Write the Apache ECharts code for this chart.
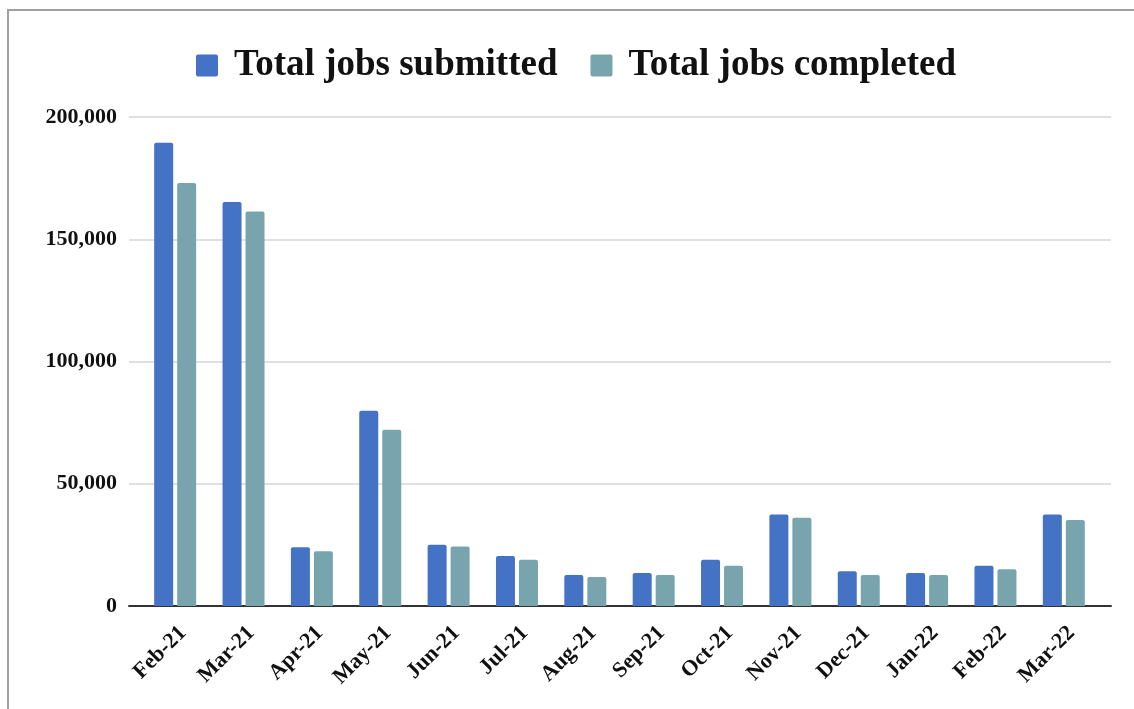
<!DOCTYPE html>
<html>
<head>
<meta charset="utf-8">
<script src="https://cdn.jsdelivr.net/npm/echarts@6/dist/echarts.min.js"></script>
<style>
  html, body { margin: 0; padding: 0; background: #fff; }
  #chart { position: absolute; left: 0; top: 0; width: 1134px; height: 709px; }
  #frame { position: absolute; left: 7px; top: 9px; width: 1140px; height: 720px;
           border-top: 2px solid #a0a0a0; border-left: 2px solid #a0a0a0; pointer-events: none; }
</style>
</head>
<body>
<div id="chart"></div>
<div id="frame"></div>
<script>
const categories = ['Feb-21','Mar-21','Apr-21','May-21','Jun-21','Jul-21','Aug-21','Sep-21','Oct-21','Nov-21','Dec-21','Jan-22','Feb-22','Mar-22'];
const submitted = [189500, 165200, 24000, 79900, 25100, 20500, 12700, 13500, 18900, 37400, 14200, 13500, 16500, 37400];
const completed = [173000, 161300, 22400, 72100, 24300, 18900, 11900, 12700, 16500, 36100, 12700, 12700, 15000, 35200];
const seriesNames = ['Total jobs submitted', 'Total jobs completed'];
const yTicks = [0, 50000, 100000, 150000, 200000];

const FONT = '"Liberation Serif", "Times New Roman", serif';
const chart = echarts.init(document.getElementById('chart'), null, { renderer: 'canvas' });

const ICON = 'path://M2,0 H20 A2,2 0 0 1 22,2 V20 A2,2 0 0 1 20,22 H2 A2,2 0 0 1 0,20 V2 A2,2 0 0 1 2,0 Z';

const option = {
  animation: false,
  backgroundColor: '#ffffff',
  legend: {
    left: 191, top: 42,
    itemWidth: 22, itemHeight: 22, itemGap: 33,
    icon: ICON,
    data: seriesNames,
    textStyle: { fontFamily: FONT, fontWeight: 'bold', fontSize: 37, color: '#111', padding: [0, 0, 0, 11] }
  },
  grid: [
    { left: 129, right: 23, top: 117, bottom: 103 },
    { left: 141, right: 36, top: 117, bottom: 103 }
  ],
  xAxis: [
    { type: 'value', gridIndex: 0, min: 0, max: 1,
      axisLine: { show: true, onZero: false, lineStyle: { color: '#333', width: 2 } },
      axisTick: { show: false }, axisLabel: { show: false }, splitLine: { show: false } },
    { type: 'category', gridIndex: 1, data: categories,
      axisLine: { show: false }, axisTick: { show: false },
      axisLabel: { interval: 0, rotate: 45, margin: 16, verticalAlign: 'top',
        fontFamily: FONT, fontWeight: 'bold', fontSize: 22, color: '#111' } }
  ],
  yAxis: [
    { type: 'value', gridIndex: 0, min: yTicks[0], max: yTicks[yTicks.length - 1], interval: yTicks[1] - yTicks[0],
      axisLine: { show: false }, axisTick: { show: false },
      axisLabel: { margin: 12, fontFamily: FONT, fontWeight: 'bold', fontSize: 22, color: '#111',
        formatter: v => v.toLocaleString('en-US') },
      splitLine: { lineStyle: { color: '#d6d6d6', width: 1.5 } } },
    { type: 'value', gridIndex: 1, min: yTicks[0], max: yTicks[yTicks.length - 1], interval: yTicks[1] - yTicks[0],
      show: false, splitLine: { show: false } }
  ],
  series: [
    { name: seriesNames[0], type: 'bar', xAxisIndex: 1, yAxisIndex: 1, data: submitted,
      barWidth: 19, barGap: '21%',
      itemStyle: { color: '#4472c4', borderRadius: [2, 2, 0, 0] } },
    { name: seriesNames[1], type: 'bar', xAxisIndex: 1, yAxisIndex: 1, data: completed,
      barWidth: 19, barGap: '21%',
      itemStyle: { color: '#78a5ad', borderRadius: [2, 2, 0, 0] } }
  ]
};
chart.setOption(option);
</script>
</body>
</html>
